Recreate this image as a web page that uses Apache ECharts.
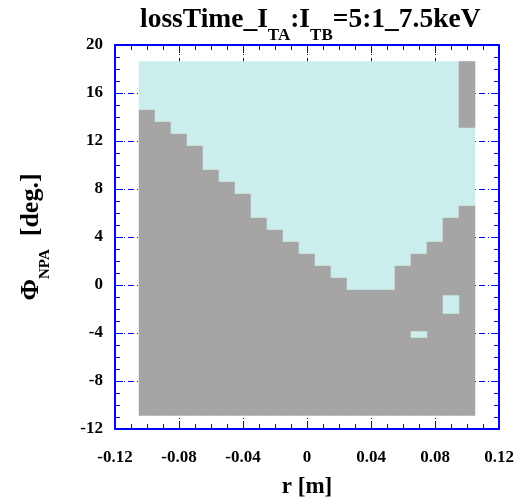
<!DOCTYPE html>
<html>
<head>
<meta charset="utf-8">
<script src="https://cdn.jsdelivr.net/npm/echarts@6/dist/echarts.min.js"></script>
<style>
  html, body { margin: 0; padding: 0; background: #fff; }
  #chart { width: 520px; height: 504px; }
</style>
</head>
<body>
<div id="chart"></div>
<script>
// Radial position of each column [m]
const rColumns = [-0.10, -0.09, -0.08, -0.07, -0.06, -0.05, -0.04, -0.03, -0.02, -0.01,
                  0.00, 0.01, 0.02, 0.03, 0.04, 0.05, 0.06, 0.07, 0.08, 0.09, 0.10];
// Lower and upper edge of the scanned pitch-angle range [deg.]
const phiMin = -10.875;
const phiMax = 18.625;
// Upper edge of the lost (grey) region in each column [deg.]
const lostTop = [14.625, 13.625, 12.625, 11.625, 9.625, 8.625, 7.625, 5.625, 4.625, 3.625,
                 2.625, 1.625, 0.625, -0.375, -0.375, -0.375, 1.625, 2.625, 3.625, 5.625, 6.625];
// Isolated patches: [r, phi low, phi high, state] (0 = lost, 1 = confined)
const patches = [
  [0.10, 13.125, 18.625, 0],
  [0.09, -2.375, -0.875, 1],
  [0.07, -4.375, -3.875, 1]
];
// Axis ticks
const rTicks = [-0.12, -0.08, -0.04, 0, 0.04, 0.08, 0.12];
const phiTicks = [-12, -8, -4, 0, 4, 8, 12, 16, 20];

const COL_HALF = 0.005;
const LOST = '#a5a5a5';
const KEPT = '#cbedeb';
const BLUE = '#0000ff';
const SERIF = '"Liberation Serif", "DejaVu Serif", serif';

// Build rectangles: lost part, confined part, then patches on top
const cells = [];
rColumns.forEach((r, i) => {
  cells.push([r, phiMin, lostTop[i], 0]);
  cells.push([r, lostTop[i], phiMax, 1]);
});
patches.forEach(p => cells.push(p.slice()));

const tickLabel = {
  fontFamily: SERIF, fontWeight: 'bold', fontSize: 17, color: '#000'
};

function fmtR(v) {
  if (Math.abs(v) < 1e-9) return '0';
  return v.toFixed(2);
}

function axisCommon(isX, main) {
  return {
    type: 'value',
    min: isX ? rTicks[0] : phiTicks[0],
    max: isX ? rTicks[rTicks.length - 1] : phiTicks[phiTicks.length - 1],
    interval: isX ? 0.04 : 4,
    axisLine: { show: true, onZero: false, lineStyle: { color: BLUE, width: 2 } },
    axisTick: { show: true, inside: true, length: 8, lineStyle: { color: BLUE, width: 1 } },
    minorTick: { show: true, splitNumber: 4, length: 5, lineStyle: { color: BLUE, width: 1 } },
    splitLine: main ? { show: true, lineStyle: { color: BLUE, width: 1, type: [6, 3, 1, 3] } } : { show: false },
    minorSplitLine: { show: false },
    axisLabel: main ? Object.assign({
      show: true,
      margin: isX ? 20 : 12,
      formatter: isX ? fmtR : (v => String(v))
    }, tickLabel) : { show: false }
  };
}

const chart = echarts.init(document.getElementById('chart'), null, { renderer: 'canvas' });

chart.setOption({
  animation: false,
  backgroundColor: '#fff',
  title: {
    text: '{m|lossTime_I}{s|TA}{m|:I}{s|TB}{m|=5:1_7.5keV}',
    left: 135,
    top: 9,
    textStyle: {
      rich: {
        m: { fontFamily: SERIF, fontWeight: 'bold', fontSize: 27.5, color: '#000',
             lineHeight: 30, padding: [0, 0, 10, 0], verticalAlign: 'bottom' },
        s: { fontFamily: SERIF, fontWeight: 'bold', fontSize: 17, color: '#000',
             lineHeight: 18, verticalAlign: 'bottom' }
      }
    }
  },
  grid: { left: 115, top: 45, width: 384, height: 384 },
  xAxis: [
    Object.assign(axisCommon(true, true), {
      position: 'bottom',
      name: 'r [m]',
      nameLocation: 'middle',
      nameGap: 47,
      nameTextStyle: { fontFamily: SERIF, fontWeight: 'bold', fontSize: 23, color: '#000' }
    }),
    Object.assign(axisCommon(true, false), { position: 'top' })
  ],
  yAxis: [
    Object.assign(axisCommon(false, true), {
      position: 'left',
      name: '{m|Φ}{s|NPA}{g|[deg.]}',
      nameLocation: 'middle',
      nameGap: 62,
      nameTextStyle: {
        rich: {
          m: { fontFamily: SERIF, fontWeight: 'bold', fontSize: 26, color: '#000',
               lineHeight: 28, padding: [0, 0, 9, 0], verticalAlign: 'bottom' },
          s: { fontFamily: SERIF, fontWeight: 'bold', fontSize: 15, color: '#000',
               lineHeight: 17, verticalAlign: 'bottom' },
          g: { fontFamily: SERIF, fontWeight: 'bold', fontSize: 26, color: '#000',
               lineHeight: 28, padding: [0, 0, 9, 13], verticalAlign: 'bottom' }
        }
      }
    }),
    Object.assign(axisCommon(false, false), { position: 'right' })
  ],
  series: [{
    type: 'custom',
    xAxisIndex: 0,
    yAxisIndex: 0,
    silent: true,
    z: 2,
    encode: { x: [0], y: [1, 2] },
    data: cells,
    renderItem: function (params, api) {
      const r = api.value(0);
      const lo = api.value(1);
      const hi = api.value(2);
      const fill = api.value(3) ? KEPT : LOST;
      const p0 = api.coord([r - COL_HALF, hi]);
      const p1 = api.coord([r + COL_HALF, lo]);
      return {
        type: 'rect',
        shape: { x: p0[0], y: p0[1], width: p1[0] - p0[0], height: p1[1] - p0[1] },
        style: { fill: fill, stroke: fill, lineWidth: 0.5 }
      };
    }
  }]
});
</script>
</body>
</html>
